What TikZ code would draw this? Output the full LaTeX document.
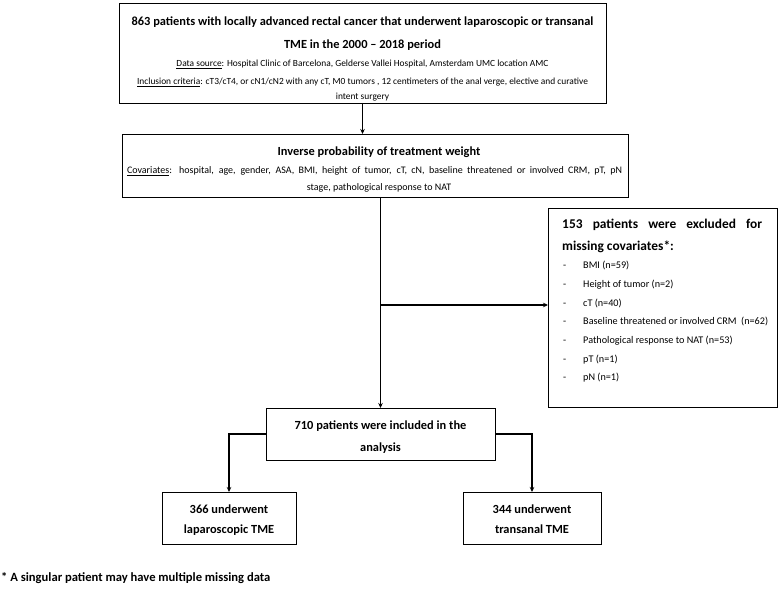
\documentclass[tikz,border=0pt]{standalone}
\usepackage{fontspec}
\setmainfont{Carlito}
\usetikzlibrary{arrows.meta}
\begin{document}
\begin{tikzpicture}[x=1pt,y=-1pt,
 box/.style={draw=black,line width=0.9pt,inner sep=0pt,outer sep=0pt},
 conn/.style={line width=1.4pt,-{Stealth[length=5pt,width=4.5pt]}},
 big/.style={font=\bfseries\fontsize{12.4}{14}\selectfont,inner sep=0pt,anchor=base},
 bigx/.style={font=\bfseries\fontsize{13.4}{15}\selectfont,inner sep=0pt,anchor=base west},
 small/.style={font=\fontsize{10}{11}\selectfont,inner sep=0pt,anchor=base},
 smalla/.style={font=\fontsize{9.4}{11}\selectfont,inner sep=0pt,anchor=base},
 item/.style={font=\fontsize{10.2}{11}\selectfont,inner sep=0pt,anchor=base west},
]
\useasboundingbox (0,0) rectangle (778,593);
\fill[white] (0,0) rectangle (778,593);
% boxes
\node[box,minimum width=487pt,minimum height=100pt] (b1) at (362.5,53) {};
\node[box,minimum width=506pt,minimum height=63pt] (b2) at (375,165.5) {};
\node[box,minimum width=229pt,minimum height=199pt] (bx) at (662.5,307.5) {};
\node[box,minimum width=229pt,minimum height=52pt] (b3) at (380.5,434) {};
\node[box,minimum width=134pt,minimum height=52pt] (b4) at (229,518) {};
\node[box,minimum width=138pt,minimum height=52pt] (b5) at (532,518) {};
% box 1 text
\node[big] (t1a) at (362.5,25.3) {863 patients with locally advanced rectal cancer that underwent laparoscopic or transanal};
\node[big] (t1b) at (362.5,48.3) {TME in the 2000 – 2018 period};
\node[smalla] (t1c) at (362.5,66.3) {\underline{Data source}: Hospital Clinic of Barcelona, Gelderse Vallei Hospital, Amsterdam UMC location AMC};
\node[smalla] (t1d) at (362.5,84.3) {\underline{Inclusion criteria}: cT3/cT4, or cN1/cN2 with any cT, M0 tumors , 12 centimeters of the anal verge, elective and curative};
\node[smalla] (t1e) at (362.5,99.6) {intent surgery};
% box 2 text
\node[big] (t2a) at (379,155.3) {Inverse probability of treatment weight};
\node[small] (t2b) at (374.5,173.5) {\makebox[495pt][s]{\underline{Covariates}: hospital, age, gender, ASA, BMI, height of tumor, cT, cN, baseline threatened or involved CRM, pT, pN}};
\node[small] (t2c) at (379,190.5) {stage, pathological response to NAT};
% excluded box text
\node[bigx] (txa) at (562,228.6) {\makebox[200pt][s]{153 patients were excluded for}};
\node[bigx] (txb) at (562,250.6) {missing covariates*:};
\foreach \t [count=\i] in {BMI (n=59),Height of tumor (n=2),cT (n=40),Baseline threatened or involved CRM\ \ (n=62),Pathological response to NAT (n=53),pT (n=1),pN (n=1)}{
  \node[item] (xd\i) at (563,{268.6+18.7*(\i-1)}) {-};
  \node[item] (xi\i) at (583,{268.6+18.7*(\i-1)}) {\t};
}
% lower boxes text
\node[big] (t3a) at (380.5,429.3) {710 patients were included in the};
\node[big] (t3b) at (380.5,451.3) {analysis};
\node[big] (t4a) at (229,513.3) {366 underwent};
\node[big] (t4b) at (229,533.3) {laparoscopic TME};
\node[big] (t5a) at (532,513.3) {344 underwent};
\node[big] (t5b) at (532,533.3) {transanal TME};
\node[font=\bfseries\fontsize{12.6}{14}\selectfont,inner sep=0pt,anchor=base west] (fn) at (1,581) {* A singular patient may have multiple missing data};
% connectors
\draw[conn] (b1.south) -- (b1.south |- b2.north);
\draw[conn] (b2.south -| b3.north) -- (b3.north);
\coordinate (br) at (380.5,305);
\draw[conn] (br) -- (br -| bx.west);
\draw[conn] (b3.west) -| (b4.north);
\draw[conn] (b3.east) -| (b5.north);
\end{tikzpicture}
\end{document}
